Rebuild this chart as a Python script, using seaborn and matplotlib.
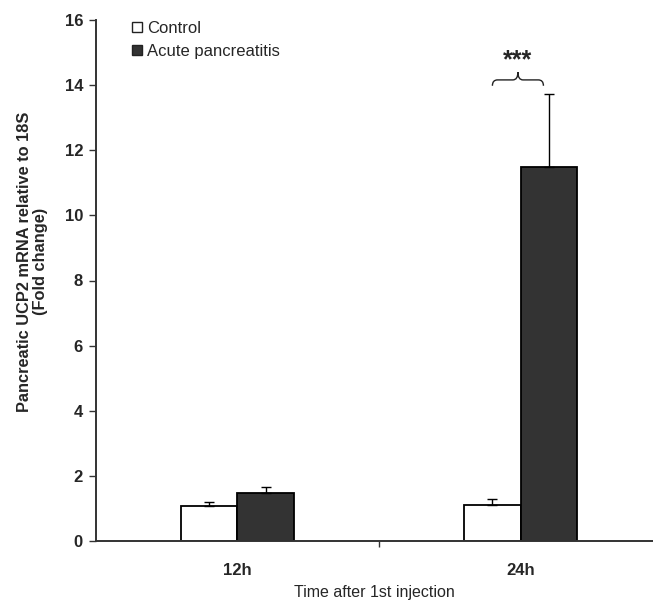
import matplotlib
matplotlib.use("Agg")
import matplotlib.pyplot as plt
from matplotlib.path import Path
from matplotlib.patches import PathPatch
from matplotlib.lines import Line2D
import seaborn as sns
import pandas as pd

# values
times = ["12h", "24h"]
groups = ["Control", "Acute pancreatitis"]
control_mean = [1.06, 1.10]
control_err = [0.15, 0.18]
ap_mean = [1.46, 11.5]
ap_err = [0.19, 2.23]
colors = ["white", "#333333"]

df = pd.DataFrame({
    "time": times * 2,
    "group": [groups[0]] * 2 + [groups[1]] * 2,
    "value": control_mean + ap_mean,
    "err": control_err + ap_err,
})

sns.set_style("white")
plt.rcParams["font.family"] = ["Liberation Sans", "DejaVu Sans"]

fig = plt.figure(figsize=(6.53, 6.06), dpi=100)
ax = fig.add_axes([95.5 / 653, 1 - 541 / 606, 1 - 95.5 / 653, (541 - 20) / 606])

sns.barplot(data=df, x="time", y="value", hue="group", palette=colors,
            width=0.4, gap=0, edgecolor="black", linewidth=1.3,
            errorbar=None, legend=False, ax=ax)

# one-sided error bars on top of each bar
for container, (_, sub) in zip(ax.containers, df.groupby("group", sort=False)):
    for bar, m, e in zip(container, sub["value"], sub["err"]):
        cx = bar.get_x() + bar.get_width() / 2
        ax.errorbar(cx, m, yerr=[[0], [e]], fmt="none", ecolor="black",
                    elinewidth=1.0, capsize=3.5, capthick=1.0, zorder=3)

ax.set_ylim(0, 16)
ax.set_xlim(-0.5, -0.5 + (653 - 95.5) / 283.5)
ax.set_yticks(range(0, 17, 2))
ax.set_xticks([0, 1])
ax.set_xticks([0.5], minor=True)
ax.set_xticklabels(times, fontweight="bold", fontsize=12)
ax.tick_params(axis="x", which="major", length=0, pad=16)
ax.tick_params(axis="x", which="minor", bottom=True, length=4, width=1,
               direction="out", color="#333333")
ax.tick_params(axis="y", left=True, length=5, width=1, direction="out",
               color="#333333", labelsize=12, pad=4)
for t in ax.get_yticklabels():
    t.set_fontweight("bold")

for s in ["top", "right"]:
    ax.spines[s].set_visible(False)
for s in ["left", "bottom"]:
    ax.spines[s].set_color("#333333")
    ax.spines[s].set_linewidth(1.4)

ax.set_xlabel("Time after 1st injection", fontsize=11.5, labelpad=5)
ax.set_ylabel("Pancreatic UCP2 mRNA relative to 18S\n(Fold change)",
              fontsize=11.8, fontweight="bold", linespacing=1.1)
ax.yaxis.set_label_coords(-0.085, 0.536)

# curly brace over the 24h pair with significance stars
bars_24 = [ax.containers[0][1], ax.containers[1][1]]
x0 = bars_24[0].get_x() + bars_24[0].get_width() / 2
x1 = bars_24[1].get_x() + bars_24[1].get_width() / 2 - 0.02
xm = (x0 + x1) / 2
d = 0.018
yb, yl, yt = 13.98, 14.16, 14.4
verts = [(x0, yb),
         (x0, yl), (x0 + d, yl),
         (xm - d, yl),
         (xm, yl), (xm, yt),
         (xm, yl), (xm + d, yl),
         (x1 - d, yl),
         (x1, yl), (x1, yb)]
codes = [Path.MOVETO,
         Path.CURVE3, Path.CURVE3,
         Path.LINETO,
         Path.CURVE3, Path.CURVE3,
         Path.CURVE3, Path.CURVE3,
         Path.LINETO,
         Path.CURVE3, Path.CURVE3]
ax.add_patch(PathPatch(Path(verts, codes), fill=False, lw=1.0, edgecolor="#222222"))
ax.text(xm, 14.4, "***", ha="center", va="bottom", fontsize=18, fontweight="bold")

handles = [Line2D([], [], marker="s", linestyle="none", markersize=7,
                  markerfacecolor=c, markeredgecolor="#222222", markeredgewidth=1.0)
           for c in colors]
fig.legend(handles, groups, loc="upper left", bbox_to_anchor=(125 / 653, 1 - 14 / 606),
           frameon=False, fontsize=12, handlelength=0.6, handletextpad=0.3,
           labelspacing=0.5, borderaxespad=0)

fig.savefig("out.png", dpi=100)
